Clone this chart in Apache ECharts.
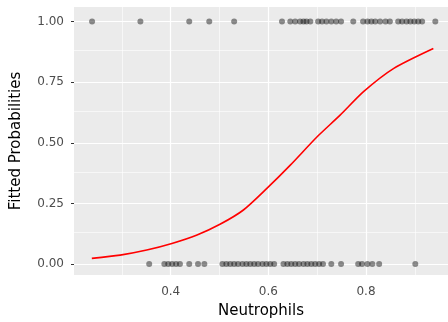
<!DOCTYPE html>
<html>
<head>
<meta charset="utf-8">
<script src="https://cdn.jsdelivr.net/npm/echarts@6/dist/echarts.min.js"></script>
<style>
  html, body { margin: 0; padding: 0; background: #fff; }
  #chart { width: 448px; height: 322px; }
</style>
</head>
<body>
<div id="chart"></div>
<script>
// observed outcomes (0 / 1) against neutrophil fraction
var posX = [0.239, 0.338, 0.438, 0.479, 0.530, 0.628, 0.645, 0.655, 0.665, 0.672, 0.678, 0.686,
  0.702, 0.710, 0.719, 0.729, 0.739, 0.749, 0.774, 0.794, 0.803, 0.811, 0.819, 0.829,
  0.840, 0.849, 0.866, 0.874, 0.883, 0.891, 0.899, 0.907, 0.915, 0.942]
var negX = [0.356, 0.387, 0.395, 0.403, 0.411, 0.419, 0.438, 0.456, 0.469, 0.506, 0.514, 0.522,
  0.530, 0.538, 0.547, 0.555, 0.563, 0.571, 0.579, 0.588, 0.596, 0.604, 0.612, 0.631,
  0.639, 0.647, 0.655, 0.663, 0.672, 0.680, 0.688, 0.696, 0.704, 0.712, 0.729, 0.749,
  0.784, 0.792, 0.803, 0.813, 0.827, 0.901]
// fitted probabilities (red curve)
var fitX = [0.2385, 0.2965, 0.351, 0.4025, 0.454, 0.501, 0.549, 0.597, 0.645, 0.700, 0.747, 0.795, 0.857, 0.938]
var fitY = [0.0235, 0.037, 0.058, 0.085, 0.120, 0.164, 0.223, 0.312, 0.408, 0.525, 0.614, 0.711, 0.807, 0.889]
// axis ticks and grid
var xTicks = [0.4, 0.6, 0.8]
var xMinor = [0.3, 0.5, 0.7, 0.9]
var yTicks = [0, 0.25, 0.5, 0.75, 1]
var yMinor = [0.125, 0.375, 0.625, 0.875]

var myChart = echarts.init(document.getElementById('chart'))

// 白色网格线 (主线粗, 次线细)
var gridLines = []
xTicks.forEach(function (v) { gridLines.push({ xAxis: v, lineStyle: { width: 1.2 } }) })
xMinor.forEach(function (v) { gridLines.push({ xAxis: v, lineStyle: { width: 0.6 } }) })
yTicks.forEach(function (v) { gridLines.push({ yAxis: v, lineStyle: { width: 1.2 } }) })
yMinor.forEach(function (v) { gridLines.push({ yAxis: v, lineStyle: { width: 0.6 } }) })

var labelStyle = { color: '#4D4D4D', fontSize: 12, fontFamily: 'DejaVu Sans' }
var nameStyle = { color: '#000', fontSize: 15, fontFamily: 'DejaVu Sans' }

var option = {
  animation: false,
  grid: {
    left: 74, right: 0, top: 7, bottom: 47,
    containLabel: false, outerBoundsMode: 'none', // v6: 不要自动收缩网格
    show: true, backgroundColor: '#EBEBEB', borderWidth: 0
  },
  xAxis: {
    type: 'value',
    min: 0.202,
    max: 0.968,
    name: 'Neutrophils',
    nameLocation: 'middle',
    nameGap: 29,
    nameTextStyle: nameStyle,
    axisLine: { show: false },
    axisTick: { show: true, customValues: xTicks, length: 3, lineStyle: { color: '#333' } },
    axisLabel: Object.assign({ customValues: xTicks, margin: 11, formatter: function (v) { return v.toFixed(1) } }, labelStyle),
    splitLine: { show: false }
  },
  yAxis: {
    type: 'value',
    min: -0.045,
    max: 1.06,
    name: 'Fitted Probabilities',
    nameLocation: 'middle',
    nameGap: 50,
    nameTextStyle: nameStyle,
    axisLine: { show: false },
    axisTick: { show: true, customValues: yTicks, length: 3, lineStyle: { color: '#333' } },
    axisLabel: Object.assign({ customValues: yTicks, margin: 10, formatter: function (v) { return v.toFixed(2) } }, labelStyle),
    splitLine: { show: false }
  },
  series: [
    {
      type: 'scatter',
      data: [],
      z: 1,
      silent: true,
      markLine: {
        z: 1,
        silent: true,
        symbol: 'none',
        label: { show: false },
        lineStyle: { color: '#FFFFFF', type: 'solid' },
        data: gridLines
      }
    },
    {
      type: 'scatter',
      data: posX.map(function (x) { return [x, 1] }),
      symbolSize: 6,
      itemStyle: { color: 'rgba(0,0,0,0.55)', borderWidth: 0 },
      z: 3
    },
    {
      type: 'scatter',
      data: negX.map(function (x) { return [x, 0] }),
      symbolSize: 6,
      itemStyle: { color: 'rgba(0,0,0,0.55)', borderWidth: 0 },
      z: 3
    },
    {
      type: 'line',
      data: fitX.map(function (x, i) { return [x, fitY[i]] }),
      showSymbol: false,
      smooth: 0.25,
      lineStyle: { color: '#FF0000', width: 1.6 },
      z: 4
    }
  ]
}
myChart.setOption(option)
</script>
</body>
</html>
